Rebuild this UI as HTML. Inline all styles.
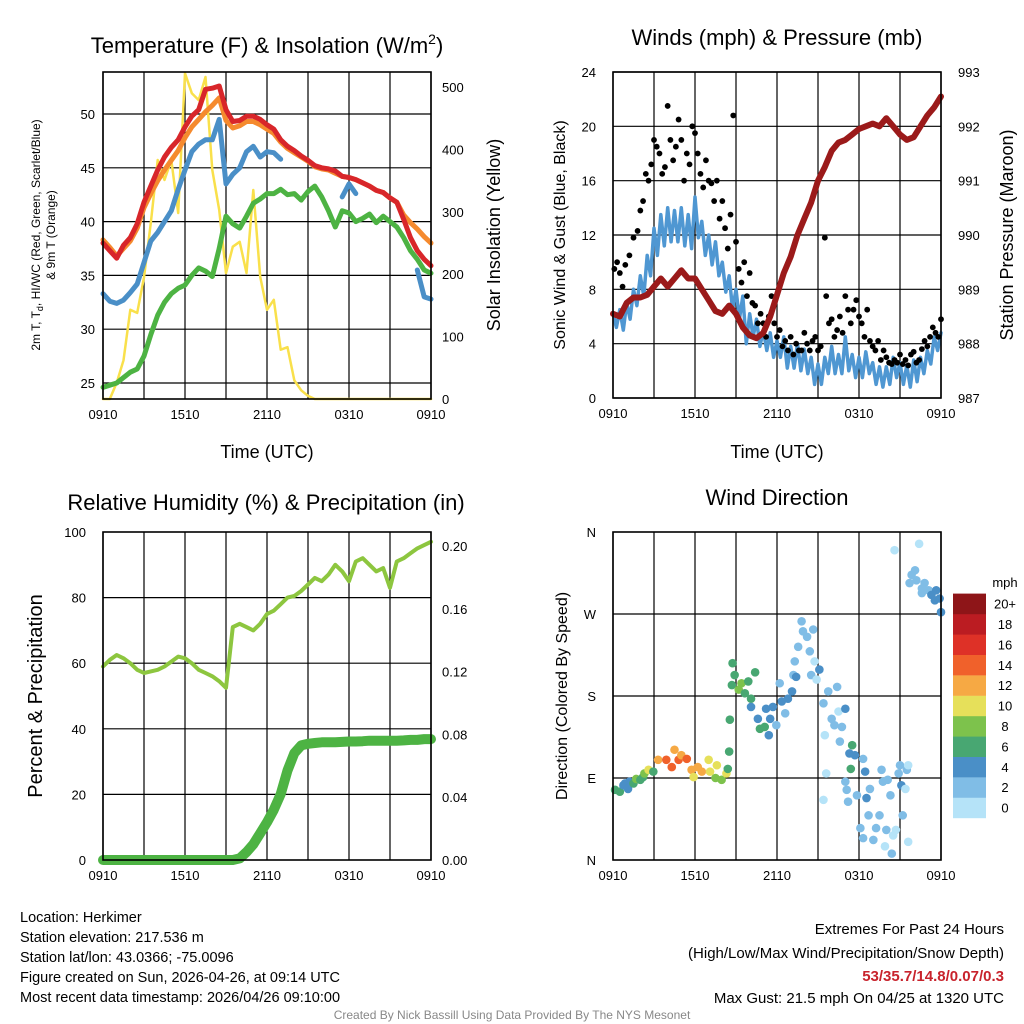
<!DOCTYPE html>
<html><head><meta charset="utf-8"><style>
body{margin:0;background:#fff;}
svg{display:block;font-family:"Liberation Sans",sans-serif;}
</style></head><body>
<svg id="c" width="1024" height="1024" viewBox="0 0 1024 1024"></svg>
<script>
const hours=[];for(let i=0;i<=48;i++)hours.push(i*0.5);
const hoursQ=[];for(let i=0;i<=96;i++)hoursQ.push(i*0.25);
const xTickLabels=["0910","1510","2110","0310","0910"];
const tempRed=[38.0,37.3,36.6,37.8,38.5,39.8,41.8,43.3,44.8,46.0,46.9,47.6,48.8,49.8,50.4,52.3,52.4,52.6,50.4,49.3,49.4,49.8,49.8,49.5,49.0,48.6,47.6,47.0,46.6,46.1,45.7,45.2,45.0,44.9,44.7,44.2,44.1,43.9,43.6,43.3,42.9,42.7,42.2,41.8,40.2,38.5,37.3,36.5,35.9];
const tempOrange=[38.3,37.6,36.8,37.5,38.2,39.4,41.3,42.6,43.8,44.8,45.7,46.6,47.8,48.8,49.5,50.2,50.8,51.5,49.4,48.7,48.9,49.3,49.3,49.0,48.6,48.2,47.4,46.8,46.4,46.0,45.6,45.1,44.9,44.8,44.5,44.2,44.1,43.9,43.6,43.3,42.9,42.7,42.2,41.8,40.6,39.9,39.3,38.6,38.0];
const tempBlue=[33.3,32.6,32.4,32.7,33.4,34.2,36.2,38.2,39.0,40.0,41.0,43.0,44.8,46.5,47.2,47.6,47.6,49.5,43.5,44.4,45.0,46.5,47.0,46.0,46.5,46.4,45.8,null,null,null,null,null,null,null,null,42.3,43.5,42.6,null,42.6,null,null,null,null,null,null,35.5,33.0,32.8];
const tempGreen=[24.6,24.8,25.0,25.5,26.0,26.3,27.5,29.5,31.3,32.5,33.3,33.8,34.1,35.0,35.7,35.4,34.9,37.5,40.5,39.8,39.4,40.5,41.7,42.1,42.6,42.6,43.0,42.5,42.6,42.0,42.8,43.3,42.3,41.0,39.5,41.0,40.8,40.0,40.3,40.7,39.9,40.5,40.0,39.5,38.5,37.3,36.5,35.5,35.2];
const solar=[0,0,26,62,143,138,195,282,383,351,383,298,522,490,479,516,367,303,202,244,252,202,335,196,143,159,79,83,30,14,5,0,0,0,0,0,0,0,0,0,0,0,0,0,0,0,0,0,0];
const tempTicks=[25,30,35,40,45,50];
const solarTicks=[0,100,200,300,400,500];
const windSpeed=[6.2,5.2,6.5,5.0,7.0,5.8,8.0,6.8,9.0,7.5,10.5,9.0,12.5,10.5,13.5,11.2,14.0,11.5,13.8,11.5,14.0,11.2,13.5,11.0,14.8,11.8,13.0,10.5,12.0,9.8,11.5,9.0,10.0,7.8,9.0,6.5,8.0,5.8,7.5,4.0,6.2,4.5,5.8,3.8,5.0,3.5,4.8,3.0,4.2,3.0,4.5,2.2,3.8,2.2,4.0,2.0,3.6,1.8,3.0,1.0,2.5,1.0,3.0,1.8,3.8,1.8,3.2,1.8,4.5,2.0,3.2,1.5,3.0,1.5,3.4,1.8,2.6,1.0,2.3,0.8,2.3,1.0,3.0,1.5,2.6,1.0,2.4,0.8,2.8,1.2,3.0,1.8,3.5,2.5,4.5,3.5,4.8];
const pressure=[988.55,988.5,988.75,988.85,988.85,988.9,989.05,989.2,989.05,989.2,989.35,989.2,989.2,989.0,988.8,988.6,988.55,988.7,988.55,988.3,988.15,988.1,988.2,988.5,988.9,989.3,989.6,990.0,990.3,990.6,991.0,991.25,991.55,991.7,991.75,991.85,991.95,992.0,992.05,992.0,992.15,992.0,991.85,991.75,991.8,992.0,992.2,992.35,992.55];
const gustHours=[0.1,0.3,0.5,0.7,0.9,1.2,1.5,1.8,2.0,2.2,2.4,2.6,2.8,3.0,3.2,3.4,3.6,3.8,4.0,4.2,4.4,4.6,4.8,5.0,5.2,5.4,5.6,5.8,6.0,6.2,6.4,6.6,6.8,7.0,7.2,7.4,7.6,7.8,8.0,8.2,8.4,8.6,8.8,9.0,9.2,9.4,9.6,9.8,10.0,10.2,10.4,10.6,10.8,11.0,11.2,11.4,11.6,11.8,12.0,12.2,12.4,12.6,12.8,13.0,13.2,13.4,13.6,13.8,14.0,14.2,14.4,14.6,14.8,15.0,15.2,15.5,15.6,15.8,16.0,16.2,16.4,16.6,16.8,17.0,17.2,17.4,17.6,17.8,18.0,18.2,18.4,18.6,18.8,19.0,19.2,19.4,19.6,19.8,20.0,20.2,20.4,20.6,20.8,21.0,21.2,21.4,21.6,21.8,22.0,22.2,22.4,22.6,22.8,23.0,23.2,23.4,23.6,23.8,24.0];
const gustVals=[9.5,10,9.2,8.2,9.8,10.5,11.8,12.3,13.8,14.5,16.5,16,17.2,19,18.5,18.0,16.5,17,21.5,19,17.5,18.5,20.5,19,16,18,17.2,20,19.5,18,16.5,15.5,17.5,16,15.8,14.5,16,13.2,14.5,12.5,11,13.5,20.8,11.5,9.5,8.5,10,7.5,9.2,7,6.8,5.5,6.2,5.5,4.5,6,7.5,5.5,4.5,5,3.8,4.2,3.5,4.5,3.2,4,3.5,3.5,4.8,4,3.5,4.2,4.5,3.5,3.8,11.8,7.5,5.5,5.8,4.5,5,6,4.8,7.5,6.5,5.5,6.5,7.2,6,5.5,4.5,6.5,4.2,3.8,3.5,4.2,2.8,3.5,3,2.6,2.5,2.8,2.6,3.2,2.5,2.8,2.4,3.2,3.4,2.6,2.8,3.6,4.2,3.8,4.5,5.2,4.8,4.5,5.8];
const windTicks=[0,4,8,12,16,20,24];
const pressTicks=[987,988,989,990,991,992,993];
const rh=[59,61,62.5,61.5,60,58,57,57.5,58,59,60.5,62,61.5,60,58,57,56,54.5,52.5,71,72,71,70,72,75,76,78,80,80.5,82,84,86,85,87,90,88,85,91,92,90,88,89,83,91,92,93.5,95,96,97];
const precip=[0,0,0,0,0,0,0,0,0,0,0,0,0,0,0,0,0,0,0,0,0.001,0.005,0.01,0.017,0.024,0.032,0.042,0.057,0.068,0.073,0.074,0.0745,0.075,0.075,0.075,0.0752,0.0755,0.0755,0.0757,0.076,0.076,0.076,0.076,0.076,0.0762,0.0765,0.0765,0.077,0.077];
const rhTicks=[0,20,40,60,80,100];
const precipTicks=[0,0.04,0.08,0.12,0.16,0.20];
const dirHours=[0.15,0.5,0.76,0.88,1.1,1.2,1.5,1.7,2.0,2.2,2.3,2.6,2.95,3.3,3.9,4.3,4.5,4.8,5.0,5.4,5.75,5.9,6.2,6.5,7.0,7.1,7.6,7.5,7.95,8.3,8.4,8.5,8.55,8.7,8.75,8.9,9.2,9.4,9.65,9.9,10.1,10.1,10.4,10.6,10.75,11.1,11.2,11.5,11.4,11.7,11.95,12.2,12.35,12.6,12.8,13.1,13.2,13.4,13.3,13.55,13.8,13.9,14.2,14.4,14.65,14.5,14.75,14.9,15.1,15.4,15.75,15.5,15.6,15.4,16.0,16.2,16.4,16.5,16.6,16.75,17.0,17.0,17.1,17.2,17.5,17.3,17.7,17.4,17.85,18.3,18.45,18.55,18.1,18.3,18.7,18.8,19.05,19.25,19.5,19.65,19.75,19.9,20.0,20.1,20.3,20.4,20.5,20.7,20.9,21.0,21.1,21.2,21.4,21.5,21.6,21.6,20.6,22.4,21.85,22.1,21.7,22.2,22.6,22.8,23.1,22.6,23.3,23.65,23.55,23.9,24.0];
const dirVals=[77,75,82,84,78,86,84,89,88,91,95,99,97,110,110,102,121,110,115,111,99,91,102,97,110,97,104,90,88,95,100,119,154,192,216,203,187,194,183,196,177,168,206,155,144,146,166,155,137,168,148,194,174,161,177,185,203,201,218,234,262,251,245,229,253,203,218,198,209,172,185,137,95,66,155,148,190,163,130,146,166,86,77,64,126,117,115,100,71,111,97,68,35,24,49,78,22,35,49,99,86,15,33,88,71,7,27,33,95,104,82,49,78,99,104,20,340,347,313,318,304,307,298,304,296,293,291,296,285,287,272];
const dirSpeed=[6,6,5,5,4,5,6,8,6,7,8,10,7,12,14,14,12,15,13,14,12,10,13,12,11,10,10,9,8,10,6,6,6,6,6,7,8,9,7,6,6,4,6,4,6,6,4,4,4,4,3,3,4,3,4,4,2,4,3,2,2,2,2,2,2,2,1,1,4,2,2,0,0,0,2,2,2,0,2,2,4,2,2,2,6,4,4,6,2,2,4,4,2,2,2,2,2,2,2,2,2,0,2,2,2,2,0,0,2,2,4,2,0,2,0,0,0,0,2,2,2,2,2,2,2,2,4,4,4,4,4];
const speedColors=["#b5e3f8","#80bde6","#4a8fc7","#48a772","#7dc24c","#e6e05a","#f6a944","#f0612b","#de3127","#bb1c22","#8e1518"];
const speedLabels=["0","2","4","6","8","10","12","14","16","18","20+"];

const NS="http://www.w3.org/2000/svg";
const svg=document.getElementById('c');
function el(tag,attrs,parent,text){const e=document.createElementNS(NS,tag);for(const k in attrs)e.setAttribute(k,attrs[k]);if(text!==undefined)e.textContent=text;(parent||svg).appendChild(e);return e;}
function lin(d0,d1,r0,r1){return v=>r0+(v-d0)*(r1-r0)/(d1-d0);}
function panel(name,L,T,R,B){const g=el('g',{});return {g,L,T,R,B,x:lin(0,24,L,R)};}
function grid(p,yTicks,yS){
  for(let i=0;i<=8;i++){const X=p.x(i*3);const l=el('line',{x1:X,x2:X,y1:p.T,y2:p.B,stroke:'#000','stroke-width':1.2},p.g);}
  yTicks.forEach(v=>{const Y=yS(v);const l=el('line',{x1:p.L,x2:p.R,y1:Y,y2:Y,stroke:'#000','stroke-width':1.2},p.g);});
}
function frame(p){const r=el('rect',{x:p.L,y:p.T,width:p.R-p.L,height:p.B-p.T,fill:'none',stroke:'#000','stroke-width':1.6},p.g);}
function xLabels(p){for(let i=0;i<5;i++){const t=el('text',{x:p.x(i*6),y:p.B+20,'font-size':13,'text-anchor':'middle'},p.g,xTickLabels[i]);}}
function yLabels(p,ticks,yS,x,anchor,fmt){ticks.forEach(v=>{const t=el('text',{x:x,y:yS(v)+5,'font-size':13,'text-anchor':anchor},p.g,fmt?fmt(v):String(v));});}
function path(p,xs,ys,yS,color,w,name){let d='',pen=false;for(let i=0;i<xs.length;i++){if(ys[i]===null){pen=false;continue;}d+=(pen?'L':'M')+p.x(xs[i]).toFixed(1)+' '+yS(ys[i]).toFixed(1);pen=true;}
  const e=el('path',{d,fill:'none',stroke:color,'stroke-width':w,'stroke-linejoin':'round','stroke-linecap':'round'},p.g);}
function text(x,y,s,size,attrs,name){const t=el('text',Object.assign({x,y,'font-size':size},attrs||{}),svg,s);return t;}

// Panel 1
const p1=panel('temperature-panel',103,72,431,399);
const y1=lin(25,50,383,114), y1r=lin(0,500,399,87);
grid(p1,tempTicks,y1);
path(p1,hours,solar,y1r,'#f9e04b',2.5,'solar-insolation-line');
path(p1,hours,tempGreen,y1,'#4db343',5,'dewpoint-line');
path(p1,hours,tempOrange,y1,'#f58a2e',5,'temp-9m-line');
path(p1,hours,tempRed,y1,'#d8262a',5,'temp-2m-line');
path(p1,hours,tempBlue,y1,'#4a8fc7',5,'heat-index-windchill-line');
frame(p1);xLabels(p1);
yLabels(p1,tempTicks,y1,95,'end');
yLabels(p1,solarTicks,y1r,442,'start');
const t1=text(267,53,'Temperature (F) & Insolation (W/m',22,{'text-anchor':'middle'},'temperature-title');el('tspan',{dy:-9,'font-size':14},t1,'2');el('tspan',{dy:9},t1,')');
text(267,458,'Time (UTC)',18,{'text-anchor':'middle'},'x-axis-title');
const lt=text(0,0,'',12,{transform:'translate(40,235) rotate(-90)','text-anchor':'middle'},'temperature-y-axis-title');
el('tspan',{},lt,'2m T, T');el('tspan',{dy:3,'font-size':9},lt,'d');el('tspan',{dy:-3},lt,', HI/WC (Red, Green, Scarlet/Blue)');
text(0,0,'& 9m T (Orange)',12,{transform:'translate(55,235) rotate(-90)','text-anchor':'middle'},'temperature-y-axis-title-2');
text(0,0,'Solar Insolation (Yellow)',18,{transform:'translate(500,235) rotate(-90)','text-anchor':'middle'},'solar-y-axis-title');

// Panel 2
const p2=panel('winds-panel',613,72,941,398);
const y2=lin(0,24,398,72), y2r=lin(987,993,398,72);
grid(p2,windTicks,y2);
path(p2,hoursQ,windSpeed,y2,'#4f97d2',3.5,'sonic-wind-line');
gustHours.forEach((h,i)=>{const c=el('circle',{cx:p2.x(h),cy:y2(gustVals[i]),r:2.9,fill:'#000'},p2.g);});
path(p2,hours,pressure,y2r,'#9b1a1a',6,'pressure-line');
frame(p2);xLabels(p2);
yLabels(p2,windTicks,y2,596,'end');
yLabels(p2,pressTicks,y2r,958,'start');
text(777,45,'Winds (mph) & Pressure (mb)',22,{'text-anchor':'middle'},'winds-title');
text(777,458,'Time (UTC)',18,{'text-anchor':'middle'},'x-axis-title-2');
text(0,0,'Sonic Wind & Gust (Blue, Black)',16,{transform:'translate(565,235) rotate(-90)','text-anchor':'middle'},'wind-y-axis-title');
text(0,0,'Station Pressure (Maroon)',18,{transform:'translate(1013,235) rotate(-90)','text-anchor':'middle'},'pressure-y-axis-title');

// Panel 3
const p3=panel('humidity-panel',103,532,431,860);
const y3=lin(0,100,860,532), y3r=lin(0,0.2,860,546);
grid(p3,[20,40,60,80],y3);
path(p3,hours,rh,y3,'#8dc63f',4,'relative-humidity-line');
path(p3,hours,precip,y3r,'#4db343',10,'precipitation-line');
frame(p3);xLabels(p3);
yLabels(p3,rhTicks,y3,86,'end');
yLabels(p3,precipTicks,y3r,442,'start',v=>v.toFixed(2));
text(266,510,'Relative Humidity (%) & Precipitation (in)',22,{'text-anchor':'middle'},'humidity-title');
text(0,0,'Percent & Precipitation',20,{transform:'translate(42,696) rotate(-90)','text-anchor':'middle'},'humidity-y-axis-title');

// Panel 4
const p4=panel('wind-direction-panel',613,532,941,860);
const y4=lin(0,360,860,532);
grid(p4,[90,180,270],y4);
dirHours.forEach((h,i)=>{const ci=Math.min(10,Math.floor(dirSpeed[i]/2));const c=el('circle',{cx:p4.x(h),cy:y4(dirVals[i]),r:4.3,fill:speedColors[ci]},p4.g);});
frame(p4);xLabels(p4);
const dirTickVals=[0,90,180,270,360], dirTickLabels=['N','E','S','W','N'];
dirTickVals.forEach((v,i)=>{const t=el('text',{x:596,y:y4(v)+5,'font-size':13,'text-anchor':'end'},p4.g,dirTickLabels[i]);});
text(777,505,'Wind Direction',22,{'text-anchor':'middle'},'wind-direction-title');
text(0,0,'Direction (Colored By Speed)',16,{transform:'translate(567,696) rotate(-90)','text-anchor':'middle'},'direction-y-axis-title');
const cb=el('g',{});
for(let i=0;i<11;i++){const yy=818-(i+1)*20.4;const r=el('rect',{x:953,y:yy,width:33,height:20.6,fill:speedColors[i]},cb);
 const t=el('text',{x:1005,y:yy+15,'font-size':13,'text-anchor':'middle'},cb,speedLabels[i]);}
text(1005,587,'mph',13,{'text-anchor':'middle'},'colorbar-unit');

// Footer
const foot=['Location: Herkimer','Station elevation: 217.536 m','Station lat/lon: 43.0366; -75.0096','Figure created on Sun, 2026-04-26, at 09:14 UTC','Most recent data timestamp: 2026/04/26 09:10:00'];
foot.forEach((s,i)=>text(20,922+i*20,s,14.5,{},'station-info-line'));
text(1004,934,'Extremes For Past 24 Hours',15,{'text-anchor':'end'},'extremes-heading');
text(1004,958,'(High/Low/Max Wind/Precipitation/Snow Depth)',15,{'text-anchor':'end'},'extremes-legend');
text(1004,981,'53/35.7/14.8/0.07/0.3',15,{'text-anchor':'end',fill:'#c8232c','font-weight':'bold'},'extremes-values');
text(1004,1003,'Max Gust: 21.5 mph On 04/25 at 1320 UTC',15,{'text-anchor':'end'},'max-gust');
text(512,1019,'Created By Nick Bassill Using Data Provided By The NYS Mesonet',12,{'text-anchor':'middle',fill:'#888'},'credits');
</script>
</body></html>
